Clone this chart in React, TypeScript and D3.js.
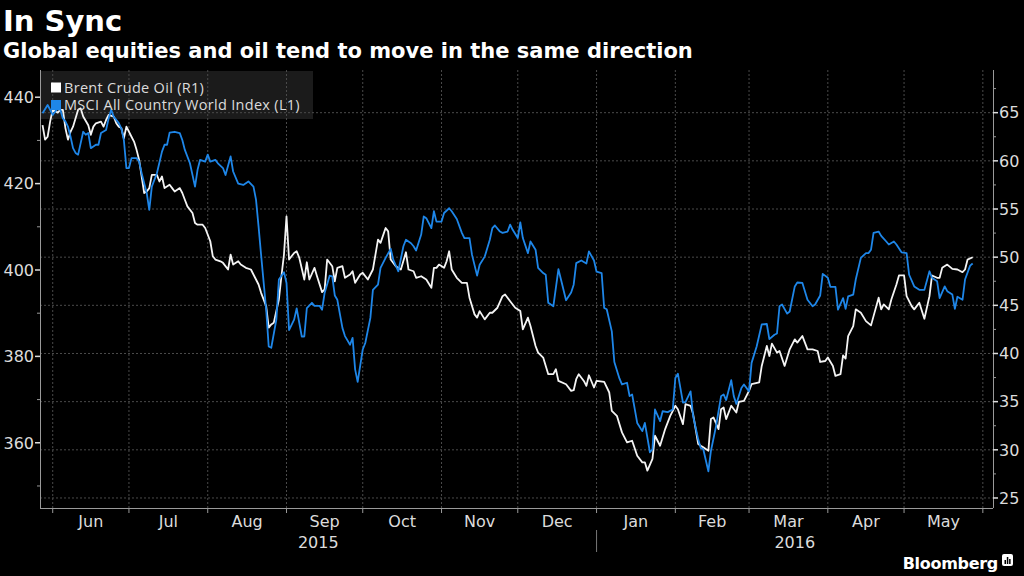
import * as d3 from "d3";

// Brent crude, USD/bbl (right axis)
const brentDates = [
  "2015-05-28", "2015-05-29", "2015-05-30", "2015-05-31", "2015-06-01", "2015-06-03", "2015-06-04", "2015-06-05",
  "2015-06-06", "2015-06-07", "2015-06-08", "2015-06-09", "2015-06-11", "2015-06-12", "2015-06-13", "2015-06-15",
  "2015-06-16", "2015-06-17", "2015-06-18", "2015-06-20", "2015-06-21", "2015-06-22", "2015-06-23", "2015-06-25",
  "2015-06-26", "2015-06-27", "2015-06-28", "2015-06-29", "2015-06-30", "2015-07-02", "2015-07-03", "2015-07-04",
  "2015-07-05", "2015-07-07", "2015-07-08", "2015-07-09", "2015-07-10", "2015-07-12", "2015-07-13", "2015-07-14",
  "2015-07-15", "2015-07-17", "2015-07-18", "2015-07-19", "2015-07-21", "2015-07-22", "2015-07-23", "2015-07-24",
  "2015-07-26", "2015-07-27", "2015-07-28", "2015-07-30", "2015-07-31", "2015-08-02", "2015-08-03", "2015-08-04",
  "2015-08-06", "2015-08-07", "2015-08-09", "2015-08-10", "2015-08-11", "2015-08-13", "2015-08-14", "2015-08-16",
  "2015-08-18", "2015-08-20", "2015-08-21", "2015-08-22", "2015-08-24", "2015-08-25", "2015-08-26", "2015-08-27",
  "2015-08-29", "2015-08-30", "2015-08-31", "2015-09-01", "2015-09-02", "2015-09-04", "2015-09-05", "2015-09-06",
  "2015-09-08", "2015-09-09", "2015-09-10", "2015-09-12", "2015-09-13", "2015-09-15", "2015-09-16", "2015-09-17",
  "2015-09-19", "2015-09-20", "2015-09-21", "2015-09-23", "2015-09-24", "2015-09-26", "2015-09-27", "2015-09-28",
  "2015-09-30", "2015-10-01", "2015-10-03", "2015-10-05", "2015-10-07", "2015-10-08", "2015-10-10", "2015-10-11",
  "2015-10-12", "2015-10-14", "2015-10-16", "2015-10-18", "2015-10-19", "2015-10-21", "2015-10-22", "2015-10-24",
  "2015-10-26", "2015-10-28", "2015-10-29", "2015-10-30", "2015-10-31", "2015-11-02", "2015-11-03", "2015-11-04",
  "2015-11-05", "2015-11-07", "2015-11-09", "2015-11-11", "2015-11-12", "2015-11-14", "2015-11-15", "2015-11-16",
  "2015-11-18", "2015-11-20", "2015-11-21", "2015-11-23", "2015-11-25", "2015-11-26", "2015-11-28", "2015-11-30",
  "2015-12-02", "2015-12-03", "2015-12-05", "2015-12-06", "2015-12-08", "2015-12-09", "2015-12-11", "2015-12-13",
  "2015-12-15", "2015-12-16", "2015-12-17", "2015-12-20", "2015-12-22", "2015-12-23", "2015-12-24", "2015-12-25",
  "2015-12-27", "2015-12-28", "2015-12-29", "2015-12-31", "2016-01-01", "2016-01-04", "2016-01-06", "2016-01-07",
  "2016-01-09", "2016-01-11", "2016-01-13", "2016-01-15", "2016-01-17", "2016-01-19", "2016-01-20", "2016-01-21",
  "2016-01-23", "2016-01-24", "2016-01-26", "2016-01-28", "2016-01-30", "2016-02-01", "2016-02-02", "2016-02-04",
  "2016-02-05", "2016-02-07", "2016-02-08", "2016-02-10", "2016-02-11", "2016-02-12", "2016-02-14", "2016-02-15",
  "2016-02-16", "2016-02-18", "2016-02-19", "2016-02-20", "2016-02-21", "2016-02-23", "2016-02-25", "2016-02-26",
  "2016-02-28", "2016-03-01", "2016-03-02", "2016-03-05", "2016-03-06", "2016-03-08", "2016-03-09", "2016-03-10",
  "2016-03-12", "2016-03-13", "2016-03-15", "2016-03-17", "2016-03-19", "2016-03-20", "2016-03-22", "2016-03-24",
  "2016-03-26", "2016-03-28", "2016-03-29", "2016-03-31", "2016-04-01", "2016-04-03", "2016-04-04", "2016-04-06",
  "2016-04-07", "2016-04-08", "2016-04-09", "2016-04-11", "2016-04-12", "2016-04-14", "2016-04-16", "2016-04-18",
  "2016-04-19", "2016-04-21", "2016-04-22", "2016-04-23", "2016-04-25", "2016-04-26", "2016-04-28", "2016-04-29",
  "2016-05-01", "2016-05-02", "2016-05-04", "2016-05-05", "2016-05-07", "2016-05-09", "2016-05-11", "2016-05-12",
  "2016-05-14", "2016-05-15", "2016-05-16", "2016-05-18", "2016-05-20", "2016-05-22", "2016-05-24", "2016-05-25",
  "2016-05-26", "2016-05-28",
];
const brentValues = [
  63.7, 62.2, 62.5, 64.1, 65.3, 65.0, 65.3, 65.3,
  63.4, 62.2, 63.0, 63.55, 65.3, 65.45, 64.6, 63.7,
  62.7, 63.55, 63.9, 64.07, 63.55, 64.24, 64.76, 64.6,
  63.9, 63.55, 63.4, 62.35, 63.55, 62.5, 62.0, 61.14,
  60.1, 56.66, 56.82, 57.17, 58.55, 58.55, 57.86, 58.37,
  57.17, 57.52, 57.17, 56.82, 57.17, 56.66, 55.96, 55.27,
  54.59, 53.55, 53.37, 53.37, 53.03, 51.65, 50.09, 49.75,
  49.57, 49.41, 48.72, 50.27, 49.23, 49.58, 49.23, 48.89,
  48.72, 47.68, 47.16, 46.3, 44.92, 42.68, 43.02, 43.2,
  45.61, 48.02, 50.27, 54.23, 49.75, 50.44, 50.61, 49.96,
  47.68, 49.47, 47.68, 48.89, 48.02, 46.37, 46.65, 49.75,
  49.06, 47.5, 48.89, 49.06, 47.86, 48.2, 48.54, 47.34,
  48.2, 48.37, 47.68, 48.72, 51.82, 51.48, 53.03, 52.68,
  49.75, 49.06, 48.72, 50.51, 48.72, 48.54, 47.86, 48.02,
  47.68, 46.82, 48.89, 48.89, 49.23, 48.89, 49.58, 50.61,
  48.72, 47.86, 47.34, 47.34, 45.79, 44.06, 43.72, 44.4,
  43.54, 44.23, 44.23, 44.75, 45.95, 46.13, 45.43, 44.75,
  44.4, 42.5, 43.72, 42.85, 40.78, 40.09, 39.58, 37.85,
  37.85, 38.37, 37.15, 36.81, 36.12, 36.19, 37.33, 37.85,
  37.15, 36.64, 37.74, 36.47, 37.15, 37.05, 35.95, 34.05,
  33.53, 31.81, 30.77, 30.94, 29.39, 28.7, 28.7, 27.84,
  29.05, 31.46, 30.42, 32.15, 33.53, 34.57, 34.22, 32.67,
  34.74, 34.57, 33.71, 30.6, 30.42, 30.26, 29.91, 33.19,
  33.36, 32.15, 34.22, 34.4, 33.19, 34.57, 33.88, 34.98,
  35.08, 36.12, 36.81, 36.99, 38.71, 40.78, 39.74, 41.02,
  40.09, 40.26, 38.71, 40.43, 41.47, 41.13, 41.81, 40.43,
  40.43, 40.26, 39.12, 39.22, 39.58, 38.71, 37.67, 37.85,
  39.81, 39.47, 41.81, 42.85, 44.58, 44.23, 43.36, 42.92,
  43.88, 45.79, 44.58, 45.09, 44.58, 45.61, 47.16, 48.1,
  48.1, 45.95, 44.92, 44.58, 45.27, 43.61, 45.95, 48.1,
  47.86, 47.86, 48.89, 49.23, 48.79, 48.72, 48.44, 48.72,
  49.75, 49.99,
];

// MSCI All Country World Index (left axis)
const msciDates = [
  "2015-05-28", "2015-05-30", "2015-05-31", "2015-06-01", "2015-06-03", "2015-06-04", "2015-06-05", "2015-06-06",
  "2015-06-07", "2015-06-08", "2015-06-09", "2015-06-10", "2015-06-11", "2015-06-13", "2015-06-14", "2015-06-15",
  "2015-06-16", "2015-06-18", "2015-06-19", "2015-06-20", "2015-06-22", "2015-06-23", "2015-06-24", "2015-06-25",
  "2015-06-27", "2015-06-28", "2015-06-29", "2015-06-30", "2015-07-01", "2015-07-02", "2015-07-04", "2015-07-05",
  "2015-07-06", "2015-07-08", "2015-07-09", "2015-07-10", "2015-07-12", "2015-07-14", "2015-07-15", "2015-07-16",
  "2015-07-17", "2015-07-19", "2015-07-21", "2015-07-22", "2015-07-23", "2015-07-25", "2015-07-27", "2015-07-28",
  "2015-07-29", "2015-07-31", "2015-08-01", "2015-08-02", "2015-08-04", "2015-08-05", "2015-08-07", "2015-08-08",
  "2015-08-10", "2015-08-11", "2015-08-13", "2015-08-15", "2015-08-17", "2015-08-19", "2015-08-20", "2015-08-21",
  "2015-08-22", "2015-08-24", "2015-08-25", "2015-08-26", "2015-08-28", "2015-08-29", "2015-08-31", "2015-09-01",
  "2015-09-02", "2015-09-04", "2015-09-05", "2015-09-07", "2015-09-08", "2015-09-09", "2015-09-11", "2015-09-12",
  "2015-09-14", "2015-09-15", "2015-09-16", "2015-09-18", "2015-09-19", "2015-09-20", "2015-09-21", "2015-09-23",
  "2015-09-24", "2015-09-26", "2015-09-27", "2015-09-28", "2015-09-29", "2015-10-01", "2015-10-02", "2015-10-04",
  "2015-10-05", "2015-10-07", "2015-10-08", "2015-10-10", "2015-10-12", "2015-10-13", "2015-10-15", "2015-10-17",
  "2015-10-18", "2015-10-20", "2015-10-21", "2015-10-22", "2015-10-24", "2015-10-25", "2015-10-26", "2015-10-28",
  "2015-10-29", "2015-10-30", "2015-11-01", "2015-11-02", "2015-11-04", "2015-11-05", "2015-11-07", "2015-11-09",
  "2015-11-10", "2015-11-12", "2015-11-13", "2015-11-15", "2015-11-16", "2015-11-18", "2015-11-20", "2015-11-21",
  "2015-11-22", "2015-11-24", "2015-11-25", "2015-11-27", "2015-11-28", "2015-11-29", "2015-12-01", "2015-12-02",
  "2015-12-03", "2015-12-05", "2015-12-06", "2015-12-08", "2015-12-09", "2015-12-11", "2015-12-12", "2015-12-13",
  "2015-12-15", "2015-12-17", "2015-12-18", "2015-12-20", "2015-12-22", "2015-12-23", "2015-12-24", "2015-12-26",
  "2015-12-28", "2015-12-29", "2015-12-31", "2016-01-01", "2016-01-03", "2016-01-04", "2016-01-05", "2016-01-07",
  "2016-01-08", "2016-01-10", "2016-01-11", "2016-01-13", "2016-01-14", "2016-01-15", "2016-01-17", "2016-01-19",
  "2016-01-20", "2016-01-22", "2016-01-23", "2016-01-24", "2016-01-26", "2016-01-27", "2016-01-29", "2016-01-31",
  "2016-02-01", "2016-02-02", "2016-02-04", "2016-02-05", "2016-02-07", "2016-02-08", "2016-02-10", "2016-02-11",
  "2016-02-12", "2016-02-14", "2016-02-15", "2016-02-17", "2016-02-19", "2016-02-20", "2016-02-21", "2016-02-23",
  "2016-02-24", "2016-02-25", "2016-02-27", "2016-02-28", "2016-03-01", "2016-03-02", "2016-03-04", "2016-03-06",
  "2016-03-08", "2016-03-09", "2016-03-11", "2016-03-12", "2016-03-13", "2016-03-14", "2016-03-16", "2016-03-17",
  "2016-03-19", "2016-03-20", "2016-03-22", "2016-03-24", "2016-03-26", "2016-03-27", "2016-03-29", "2016-03-30",
  "2016-04-01", "2016-04-02", "2016-04-04", "2016-04-05", "2016-04-07", "2016-04-08", "2016-04-09", "2016-04-11",
  "2016-04-12", "2016-04-14", "2016-04-16", "2016-04-17", "2016-04-18", "2016-04-19", "2016-04-21", "2016-04-22",
  "2016-04-24", "2016-04-25", "2016-04-27", "2016-04-28", "2016-04-30", "2016-05-02", "2016-05-03", "2016-05-05",
  "2016-05-07", "2016-05-09", "2016-05-11", "2016-05-12", "2016-05-14", "2016-05-15", "2016-05-17", "2016-05-18",
  "2016-05-20", "2016-05-21", "2016-05-22", "2016-05-24", "2016-05-25", "2016-05-27", "2016-05-28",
];
const msciValues = [
  436.3, 438.2, 437.1, 435.9, 437.5, 437.1, 435.1, 434.4,
  433.2, 430.9, 428.2, 427.1, 426.7, 432.0, 431.3, 431.7,
  428.2, 429.0, 429.0, 431.7, 432.4, 435.1, 437.1, 435.5,
  434.0, 432.8, 430.1, 423.6, 423.6, 425.9, 425.9, 425.1,
  422.4, 417.8, 413.9, 419.3, 422.4, 427.4, 429.0, 429.0,
  431.8, 432.0, 431.7, 430.1, 427.8, 424.7, 419.3, 423.2,
  425.5, 425.1, 426.7, 425.1, 425.5, 424.7, 423.6, 422.0,
  426.3, 422.8, 420.0, 419.7, 420.5, 419.3, 416.3, 410.1,
  403.5, 390.8, 382.3, 382.0, 388.5, 397.8, 399.5, 397.0,
  386.1, 388.5, 391.1, 384.6, 384.6, 391.2, 392.4, 391.7,
  391.7, 390.8, 394.7, 398.7, 398.5, 394.1, 393.1, 386.6,
  384.7, 382.7, 384.3, 377.0, 374.1, 381.6, 383.1, 388.9,
  395.4, 396.6, 400.5, 402.8, 404.9, 402.4, 399.7, 405.5,
  407.0, 406.2, 405.5, 404.5, 408.2, 412.4, 412.0, 409.7,
  413.6, 411.2, 411.2, 413.2, 414.3, 413.6, 411.8, 408.6,
  407.4, 407.4, 403.5, 398.7, 401.2, 403.1, 407.0, 409.7,
  410.3, 408.9, 408.6, 408.9, 410.5, 409.3, 407.4, 411.0,
  407.4, 403.9, 406.6, 404.7, 400.5, 399.3, 398.9, 392.4,
  391.6, 400.2, 397.8, 393.0, 394.8, 396.6, 401.6, 402.2,
  401.5, 404.3, 402.2, 399.6, 399.3, 391.2, 390.9, 385.8,
  378.7, 374.9, 373.5, 373.9, 370.8, 371.2, 364.6, 362.7,
  364.6, 357.8, 358.5, 367.7, 365.0, 367.3, 367.1, 367.7,
  375.0, 376.0, 369.3, 369.4, 371.9, 366.2, 360.8, 358.8,
  358.5, 353.4, 358.1, 363.8, 370.8, 371.2, 369.9, 374.5,
  370.8, 369.0, 372.7, 373.5, 371.9, 378.5, 382.3, 387.4,
  387.5, 384.0, 385.0, 385.3, 391.6, 392.0, 389.9, 390.4,
  396.2, 397.1, 397.0, 393.1, 391.6, 392.0, 394.1, 399.1,
  398.2, 396.1, 396.1, 390.8, 393.5, 391.0, 393.9, 394.3,
  397.8, 402.8, 403.9, 403.9, 404.7, 408.6, 408.9, 407.9,
  406.6, 405.9, 406.6, 405.9, 404.1, 403.9, 398.9, 396.2,
  395.4, 395.4, 399.7, 398.2, 397.4, 393.5, 396.2, 395.1,
  394.3, 391.0, 393.8, 393.1, 397.8, 401.0, 401.5,
];

const leftTicks = [360, 380, 400, 420, 440];
const leftMinor = [350, 370, 390, 410, 430];
const rightTicks = [25, 30, 35, 40, 45, 50, 55, 60, 65];
const rightMinor = [27.5, 32.5, 37.5, 42.5, 47.5, 52.5, 57.5, 62.5, 67.5];
const years = ["2015", "2016"];

const W = 1024;
const H = 576;
const plot = { left: 40, right: 993, top: 70, bottom: 508 };
const BLUE = "#1e86e8";
const GRID = "#4a4a4a";
const AXIS = "#9a9a9a";
const LABEL = "#dcdcdc";
const tickFont = "'DejaVu Sans', sans-serif";

type Pt = { date: Date; value: number };

export default function App() {
  const parse = d3.timeParse("%Y-%m-%d");
  const brent: Pt[] = brentDates.map((d, i) => ({ date: parse(d)!, value: brentValues[i] }));
  const msci: Pt[] = msciDates.map((d, i) => ({ date: parse(d)!, value: msciValues[i] }));

  const x = d3
    .scaleTime()
    .domain([new Date(2015, 4, 27), new Date(2016, 5, 5)])
    .range([plot.left, plot.right]);
  const yLeft = d3.scaleLinear().domain([344.9, 446.3]).range([plot.bottom, plot.top]);
  const yRight = d3.scaleLinear().domain([23.96, 69.43]).range([plot.bottom, plot.top]);

  const brentLine = d3
    .line<Pt>()
    .x((d) => x(d.date))
    .y((d) => yRight(d.value));
  const msciLine = d3
    .line<Pt>()
    .x((d) => x(d.date))
    .y((d) => yLeft(d.value));

  const months = x.ticks(d3.timeMonth.every(1)!);
  const fmt = d3.timeFormat("%b");
  const yearStart = new Date(2016, 0, 1);
  const yearCenters = [
    (plot.left + x(yearStart)) / 2,
    (x(yearStart) + plot.right) / 2,
  ];

  return (
    <div style={{ position: "fixed", left: 0, top: 0, width: W, height: H, background: "#000" }}>
      <svg width={W} height={H} style={{ display: "block" }}>
        <rect x={0} y={0} width={W} height={H} fill="#000" />

        <text x={3} y={31} fill="#fff" fontFamily="'DejaVu Sans', sans-serif" fontWeight="bold" fontSize={29}>
          In Sync
        </text>
        <text x={3} y={58} fill="#fff" fontFamily="'DejaVu Sans', sans-serif" fontWeight="bold" fontSize={21}>
          Global equities and oil tend to move in the same direction
        </text>

        {/* legend background */}
        <rect x={41} y={71} width={272} height={48} fill="#1b1b1b" />

        {/* grid */}
        {rightTicks.map((t) => (
          <line key={"gy" + t} x1={plot.left} x2={plot.right} y1={yRight(t)} y2={yRight(t)}
            stroke={GRID} strokeDasharray="2,2" />
        ))}
        {months.map((m) => (
          <line key={"gx" + m.getTime()} x1={x(m)} x2={x(m)} y1={plot.top} y2={plot.bottom}
            stroke={GRID} strokeDasharray="2,2" />
        ))}

        {/* axes */}
        <line x1={plot.left + 0.5} x2={plot.left + 0.5} y1={plot.top} y2={plot.bottom} stroke={AXIS} />
        <line x1={plot.right + 0.5} x2={plot.right + 0.5} y1={plot.top} y2={plot.bottom} stroke={AXIS} />
        <line x1={plot.left} x2={plot.right} y1={plot.bottom + 0.5} y2={plot.bottom + 0.5} stroke={AXIS} />

        {leftTicks.map((t) => (
          <g key={"lt" + t}>
            <line x1={plot.left - 5} x2={plot.left} y1={yLeft(t)} y2={yLeft(t)} stroke={LABEL} strokeWidth={1.5} />
            <text x={plot.left - 6} y={yLeft(t)} dy="0.36em" textAnchor="end" fill={LABEL}
              fontFamily={tickFont} fontSize={16}>
              {t}
            </text>
          </g>
        ))}
        {leftMinor.map((t) => (
          <line key={"lm" + t} x1={plot.left - 3} x2={plot.left} y1={yLeft(t)} y2={yLeft(t)} stroke={AXIS} />
        ))}
        {rightTicks.map((t) => (
          <g key={"rt" + t}>
            <line x1={plot.right} x2={plot.right + 5} y1={yRight(t)} y2={yRight(t)} stroke={LABEL} strokeWidth={1.5} />
            <text x={plot.right + 6} y={yRight(t)} dy="0.36em" fill={LABEL} fontFamily={tickFont} fontSize={16}>
              {t}
            </text>
          </g>
        ))}
        {rightMinor.map((t) => (
          <line key={"rm" + t} x1={plot.right} x2={plot.right + 3} y1={yRight(t)} y2={yRight(t)} stroke={AXIS} />
        ))}

        {months.map((m) => (
          <line key={"xt" + m.getTime()} x1={x(m)} x2={x(m)} y1={plot.bottom} y2={plot.bottom + 5} stroke={AXIS} />
        ))}
        {months.slice(0, -1).map((m, i) => (
          <text key={"ml" + i} x={(x(m) + x(months[i + 1])) / 2} y={527} textAnchor="middle" fill={LABEL}
            fontFamily={tickFont} fontSize={16}>
            {fmt(m)}
          </text>
        ))}
        {years.map((yr, i) => (
          <text key={yr} x={yearCenters[i]} y={548} textAnchor="middle" fill={LABEL} fontFamily={tickFont} fontSize={16}>
            {yr}
          </text>
        ))}
        <line x1={x(yearStart)} x2={x(yearStart)} y1={530} y2={552} stroke="#777" />

        {/* series */}
        <path d={brentLine(brent)!} fill="none" stroke="#f4f4f4" strokeWidth={1.8} strokeLinejoin="round" />
        <path d={msciLine(msci)!} fill="none" stroke={BLUE} strokeWidth={1.8} strokeLinejoin="round" />

        {/* legend */}
        <rect x={51} y={82.5} width={10} height={10} fill="#fff" />
        <text x={64} y={92.5} fill={LABEL} fontFamily="'Open Sans', sans-serif" fontSize={14.5} letterSpacing={0.3}>
          Brent Crude Oil (R1)
        </text>
        <rect x={51} y={100} width={10} height={10} fill={BLUE} />
        <text x={64} y={110} fill={LABEL} fontFamily="'Open Sans', sans-serif" fontSize={14.5} letterSpacing={0.3}>
          MSCI All Country World Index (L1)
        </text>

        {/* branding */}
        <text x={998} y={569} textAnchor="end" fill="#fff" fontFamily="'DejaVu Sans', sans-serif"
          fontWeight="bold" fontSize={16} letterSpacing={-0.3}>
          Bloomberg
        </text>
        <rect x={1002} y={554} width={11} height={12} rx={2} fill="#fff" />
        <rect x={1004.5} y={560} width={1.5} height={4} fill="#000" />
        <rect x={1006.8} y={557} width={1.5} height={7} fill="#000" />
        <rect x={1009.1} y={559} width={1.5} height={5} fill="#000" />
      </svg>
    </div>
  );
}
